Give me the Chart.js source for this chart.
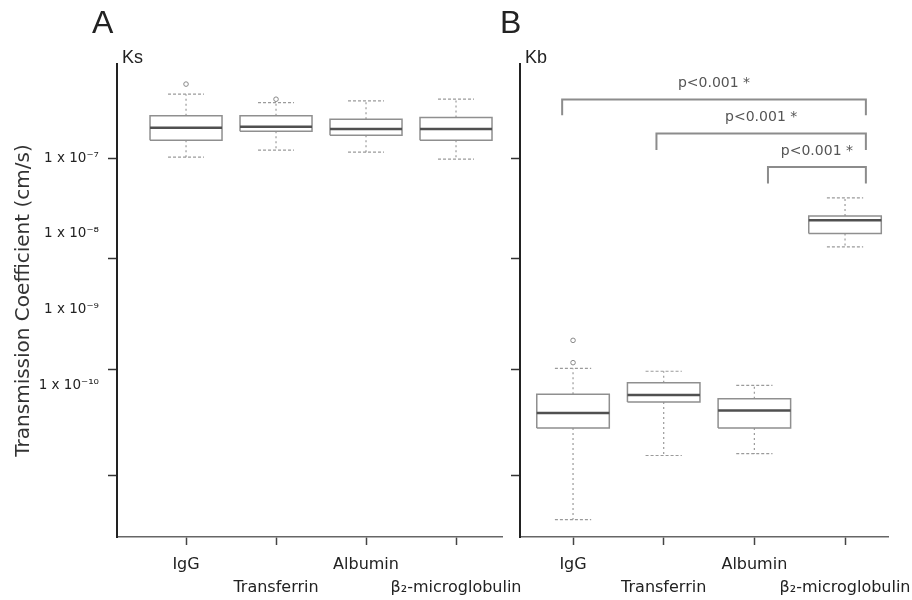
<!DOCTYPE html>
<html>
<head>
<meta charset="utf-8">
<script src="https://cdn.jsdelivr.net/npm/chart.js@4"></script>
<style>
html,body{margin:0;padding:0;background:#fff;}
#wrap{position:relative;width:912px;height:600px;overflow:hidden;background:#fff;}
canvas{position:absolute;top:0;}
#cA{left:0;}
#cB{left:505px;}
.lab{position:absolute;font-family:"Liberation Sans",Arial,sans-serif;color:#222;line-height:1;white-space:nowrap;}
.panel{font-size:32px;top:6px;}
.k{font-size:18px;top:48px;}
</style>
</head>
<body>
<div id="wrap">
  <canvas id="cA" width="540" height="600"></canvas>
  <canvas id="cB" width="407" height="600"></canvas>
  <div class="lab panel" style="left:92px">A</div>
  <div class="lab k" style="left:122px">Ks</div>
  <div class="lab panel" style="left:500px">B</div>
  <div class="lab k" style="left:525px">Kb</div>
</div>
<script>
// ---------- data ----------
const categories = ['IgG', 'Transferrin', 'Albumin', 'β₂-microglobulin'];

// Panel A: Ks (cm/s)
const ksLow      = [1.03e-7, 1.28e-7, 1.20e-7, 9.7e-8];
const ksQ1       = [1.73e-7, 2.27e-7, 2.01e-7, 1.73e-7];
const ksMedian   = [2.53e-7, 2.59e-7, 2.42e-7, 2.42e-7];
const ksQ3       = [3.62e-7, 3.62e-7, 3.27e-7, 3.45e-7];
const ksHigh     = [7.0e-7, 5.4e-7, 5.71e-7, 6.0e-7];
const ksOutliers = [[9.5e-7], [6.0e-7], [], []];

// Panel B: Kb (cm/s)
const kbLow      = [1.70e-12, 1.19e-11, 1.26e-11, 6.73e-9];
const kbQ1       = [2.74e-11, 6.04e-11, 2.74e-11, 1.01e-8];
const kbMedian   = [4.32e-11, 7.47e-11, 4.69e-11, 1.52e-8];
const kbQ3       = [7.63e-11, 1.09e-10, 6.69e-11, 1.73e-8];
const kbHigh     = [1.68e-10, 1.54e-10, 1.0e-10, 2.99e-8];
const kbOutliers = [[3.94e-10, 2.0e-10], [], [], []];

// y axis
const yMin = 1e-12;
const yMax = 1.75e-6;
const yTickValues = [1e-7, 1e-8, 1e-9, 1e-10];
const yTickLabels = ['1 x 10⁻⁷', '1 x 10⁻⁸', '1 x 10⁻⁹', '1 x 10⁻¹⁰'];
const yTickMarks  = [1e-7, 4.78e-9, 1.63e-10, 6.49e-12];

// significance brackets (panel B), x in category units
const bracketFrom   = [-0.12, 0.92, 2.15];
const bracketTo     = [3.23, 3.23, 3.23];
const bracketTop    = [5.96e-7, 2.12e-7, 7.67e-8];
const bracketBottom = [3.70e-7, 1.28e-7, 4.63e-8];
const bracketLabels = ['p<0.001 *', 'p<0.001 *', 'p<0.001 *'];

// ---------- chart ----------
Chart.defaults.font.family = 'DejaVu Sans';
Chart.defaults.color = '#222';

const positions = categories.map((c, i) => i);
const BOX_HALF = 0.4, CAP_HALF = 0.2;

function buildYTicks() {
  const all = [];
  yTickValues.forEach((v, i) => all.push({value: v, txt: yTickLabels[i], mark: yTickMarks.includes(v)}));
  yTickMarks.forEach(v => { if (!yTickValues.includes(v)) all.push({value: v, txt: '', mark: true}); });
  all.sort((a, b) => a.value - b.value);
  return all;
}

const bracketTextPlugin = {
  id: 'bracketText',
  afterDatasetsDraw(chart, args, opts) {
    if (!opts.show) return;
    const {ctx, scales: {x, y}} = chart;
    ctx.save();
    ctx.font = '14px "DejaVu Sans"';
    ctx.fillStyle = '#555';
    ctx.textAlign = 'center';
    ctx.textBaseline = 'middle';
    bracketLabels.forEach((t, i) => {
      const px = x.getPixelForValue((bracketFrom[i] + bracketTo[i]) / 2);
      const py = y.getPixelForValue(bracketTop[i]) - 16;
      ctx.fillText(t, px, py);
    });
    ctx.restore();
  }
};

function makeChart(id, p) {
  const boxes = [], medians = [], whiskers = [], caps = [], outs = [];
  positions.forEach((x, i) => {
    boxes.push({x: x - BOX_HALF, y: p.q1[i]}, {x: x - BOX_HALF, y: p.q3[i]},
               {x: x + BOX_HALF, y: p.q3[i]}, {x: x + BOX_HALF, y: p.q1[i]},
               {x: x - BOX_HALF, y: p.q1[i]}, {x: x, y: null});
    medians.push({x: x - BOX_HALF, y: p.med[i]}, {x: x + BOX_HALF, y: p.med[i]}, {x: x, y: null});
    whiskers.push({x: x, y: p.q3[i]}, {x: x, y: p.high[i]}, {x: x, y: null},
                  {x: x, y: p.q1[i]}, {x: x, y: p.low[i]}, {x: x, y: null});
    caps.push({x: x - CAP_HALF, y: p.high[i]}, {x: x + CAP_HALF, y: p.high[i]}, {x: x, y: null},
              {x: x - CAP_HALF, y: p.low[i]}, {x: x + CAP_HALF, y: p.low[i]}, {x: x, y: null});
    p.outliers[i].forEach(v => outs.push({x: x, y: v}));
  });
  const brackets = [];
  if (p.brackets) {
    bracketFrom.forEach((f, i) => {
      brackets.push({x: f, y: bracketBottom[i]}, {x: f, y: bracketTop[i]},
                    {x: bracketTo[i], y: bracketTop[i]}, {x: bracketTo[i], y: bracketBottom[i]},
                    {x: f, y: null});
    });
  }
  const lineDs = (data, color, width, dash, order) => ({
    data, showLine: true, borderColor: color, borderWidth: width, borderDash: dash,
    pointRadius: 0, pointHoverRadius: 0, spanGaps: false, tension: 0, fill: false, order
  });
  const datasets = [
    lineDs(boxes, '#8f8f8f', 1.5, [], 3),
    lineDs(whiskers, '#9a9a9a', 1.2, [2, 3], 4),
    lineDs(caps, '#9a9a9a', 1.2, [3, 2], 4),
    lineDs(medians, '#505050', 2.5, [], 1),
    {data: outs, showLine: false, pointRadius: 2.3, pointBorderWidth: 1, pointBorderColor: '#888',
     pointBackgroundColor: '#fff', order: 0}
  ];
  if (p.brackets) datasets.push(lineDs(brackets, '#8c8c8c', 2, [], 2));

  return new Chart(document.getElementById(id), {
    type: 'scatter',
    data: {datasets},
    plugins: [bracketTextPlugin],
    options: {
      responsive: false,
      animation: false,
      events: [],
      layout: {padding: {top: 64, bottom: 0, left: 0, right: p.padRight}},
      plugins: {legend: {display: false}, tooltip: {enabled: false}, bracketText: {show: !!p.brackets}},
      scales: {
        x: {
          type: 'linear', min: p.xMin, max: p.xMax, offset: false,
          grid: {drawOnChartArea: false, drawTicks: true, tickLength: 8, tickColor: '#444', tickWidth: 1.5},
          border: {display: true, color: '#666', width: 1.5},
          ticks: {
            autoSkip: false, maxRotation: 0, minRotation: 0, padding: 9, color: '#222',
            font: {family: 'DejaVu Sans', size: 16, lineHeight: 1.4},
            callback: (v, i) => (i % 2 === 0 ? [categories[i]] : ['', categories[i]])
          },
          afterBuildTicks: s => { s.ticks = positions.map(v => ({value: v})); },
          afterFit: s => { s.height = 63; s.paddingLeft = 0; s.paddingRight = 0; }
        },
        y: {
          type: 'logarithmic', min: yMin, max: yMax,
          grid: {
            drawOnChartArea: false, drawTicks: true, tickLength: 9, tickWidth: 1.5,
            tickColor: c => (c.tick && c.tick.mark) ? '#333' : 'rgba(0,0,0,0)'
          },
          border: {display: true, color: '#222', width: 2},
          ticks: {
            autoSkip: false, padding: 9, color: '#222',
            font: {family: 'DejaVu Sans', size: 13.5},
            callback: (v, i, t) => (p.showLabels ? (t[i].txt || '') : '')
          },
          title: {
            display: p.showLabels, text: 'Transmission Coefficient (cm/s)', color: '#333',
            font: {family: 'DejaVu Sans', size: 20}, padding: {top: 12, bottom: 0}
          },
          afterBuildTicks: s => { s.ticks = buildYTicks(); },
          afterFit: s => { s.width = p.yAxisWidth; s.paddingTop = 0; s.paddingBottom = 0; }
        }
      }
    }
  });
}

makeChart('cA', {
  low: ksLow, q1: ksQ1, med: ksMedian, q3: ksQ3, high: ksHigh, outliers: ksOutliers,
  xMin: -0.767, xMax: 3.511, yAxisWidth: 117, padRight: 38, showLabels: true, brackets: false
});
makeChart('cB', {
  low: kbLow, q1: kbQ1, med: kbMedian, q3: kbQ3, high: kbHigh, outliers: kbOutliers,
  xMin: -0.585, xMax: 3.474, yAxisWidth: 15, padRight: 24, showLabels: false, brackets: true
});
</script>
</body>
</html>
